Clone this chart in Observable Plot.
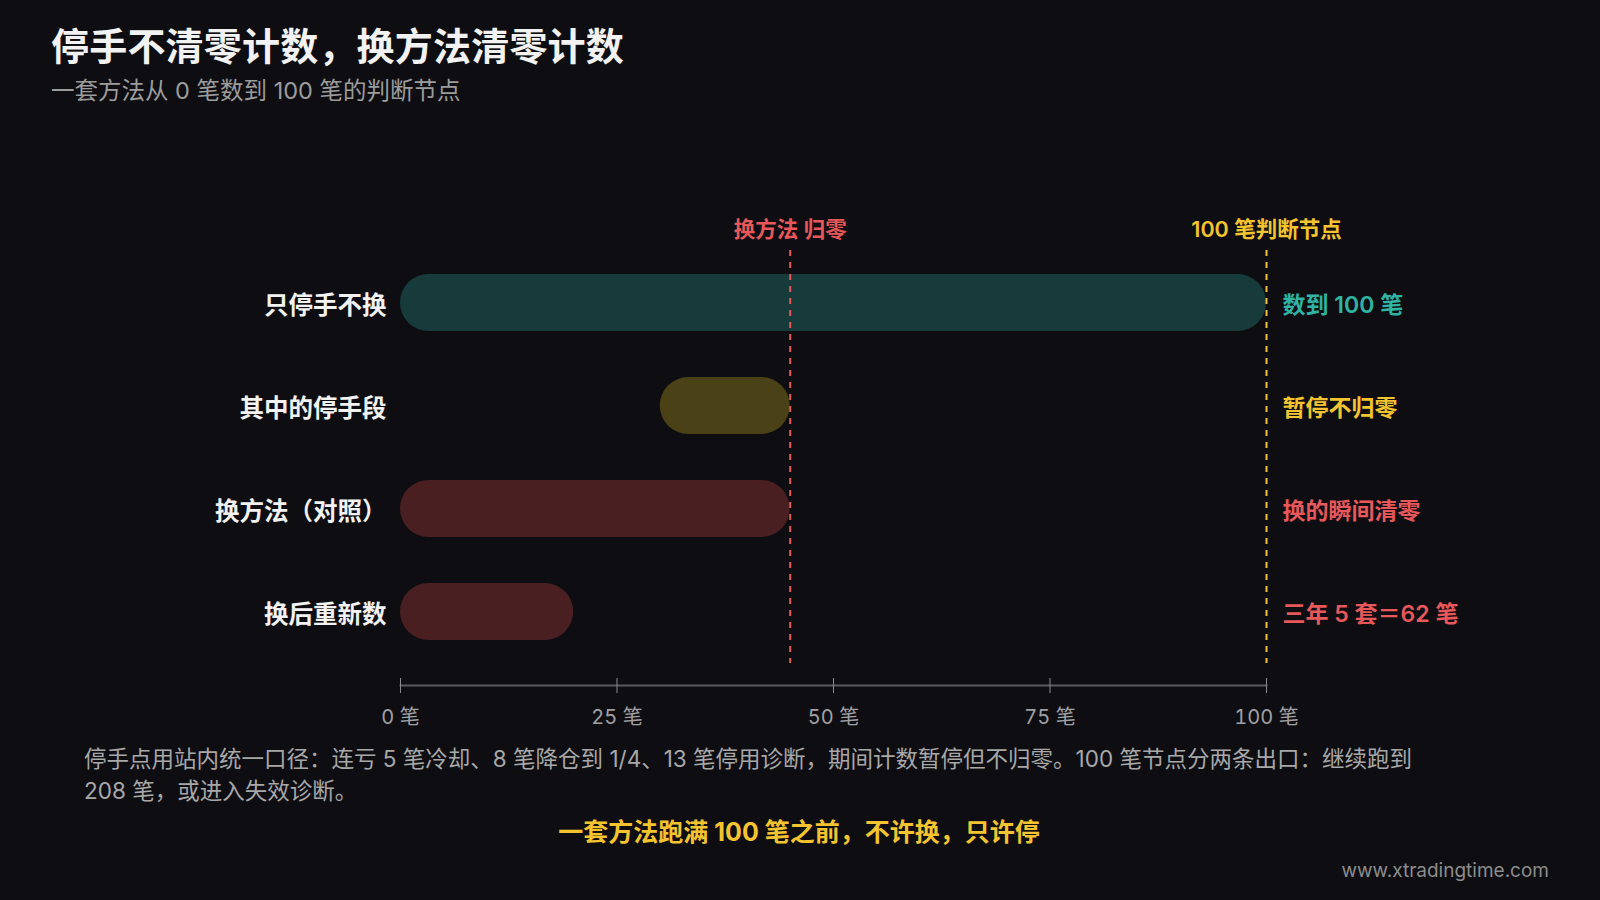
<!DOCTYPE html>
<html>
<head>
<meta charset="utf-8">
<script src="https://cdn.jsdelivr.net/npm/d3@7"></script>
<script src="https://cdn.jsdelivr.net/npm/@observablehq/plot@0.6"></script>
<style>
  html, body { margin: 0; padding: 0; background: #0e0e12; }
  body { width: 1600px; height: 900px; position: relative; overflow: hidden;
         font-family: "Inter", "Noto Sans CJK SC", "Noto Sans", sans-serif; }
  #title { position: absolute; left: 51px; top: 16px; font-size: 38px; font-weight: 700; color: #f2f2f2; letter-spacing: 0.2px; }
  #subtitle { position: absolute; left: 51px; top: 72px; font-size: 23.5px; color: #9c9c9c; }
  #chart { position: absolute; left: 0; top: 180px; }
  #note { position: absolute; left: 84px; top: 743px; font-size: 22.5px; line-height: 32px; color: #a8a8a8; }
  #punch { position: absolute; left: 0; width: 1598px; text-align: center; top: 812px; font-size: 25px; font-weight: 700; color: #f4c430; }
  #site { position: absolute; right: 51px; top: 859px; font-size: 19px; color: #8c8c8c; }
</style>
</head>
<body>
<div id="title">停手不清零计数，换方法清零计数</div>
<div id="subtitle">一套方法从 0 笔数到 100 笔的判断节点</div>
<div id="chart"></div>
<div id="note">停手点用站内统一口径：连亏 5 笔冷却、8 笔降仓到 1/4、13 笔停用诊断，期间计数暂停但不归零。100 笔节点分两条出口：继续跑到<br>208 笔，或进入失效诊断。</div>
<div id="punch">一套方法跑满 100 笔之前，不许换，只许停</div>
<div id="site">www.xtradingtime.com</div>
<script>
// ---- data ----
const categories = ["只停手不换", "其中的停手段", "换方法（对照）", "换后重新数"];
const starts = [0, 30, 0, 0];
const ends = [100, 45, 45, 20];
const notes = ["数到 100 笔", "暂停不归零", "换的瞬间清零", "三年 5 套＝62 笔"];
const kinds = ["keep", "pause", "switch", "switch"];
const markerValues = [45, 100];
const markerLabels = ["换方法 归零", "100 笔判断节点"];
const markerKinds = ["switch", "pause"];
const xTicks = [0, 25, 50, 75, 100];
const tickUnit = "笔";

// ---- styles ----
const barFill = {keep: "#173b3b", pause: "#4b4116", switch: "#4a1f22"};
const textFill = {keep: "#2fb3a3", pause: "#f4c430", switch: "#e8585a"};
const ruleStroke = {switch: "#e25a5a", pause: "#f0c030"};

const rows = categories.map((c, i) => ({cat: c, x1: starts[i], x2: ends[i], note: notes[i], kind: kinds[i]}));
const markers = markerValues.map((v, i) => ({x: v, label: markerLabels[i], kind: markerKinds[i]}));

const fontFamily = '"Inter", "Noto Sans CJK SC", "Noto Sans", sans-serif';

const chart = Plot.plot({
  width: 1600,
  height: 560,
  marginLeft: 400,
  marginRight: 334,
  marginTop: 70,
  marginBottom: 55,
  style: {background: "transparent", color: "#f2f2f2", fontFamily, overflow: "visible"},
  x: {domain: [0, 100]},
  y: {domain: categories, range: [93.5, 459.5], paddingInner: 0.447, paddingOuter: 0},
  marks: [
    Plot.barX(rows, {y: "cat", x1: "x1", x2: "x2", fill: d => barFill[d.kind], rx: 28.5}),
    Plot.ruleX(markers, {x: "x", stroke: d => ruleStroke[d.kind], strokeWidth: 2, strokeDasharray: "6,6", insetBottom: 22}),
    Plot.text(markers, {x: "x", frameAnchor: "top", dy: -29, text: "label", fill: d => textFill[d.kind], fontSize: 21.5, fontWeight: 600}),
    Plot.text(rows, {y: "cat", x: () => 100, dx: 16, dy: 3, textAnchor: "start", text: "note", fill: d => textFill[d.kind], fontSize: 23, fontWeight: 600}),
    Plot.axisY({tickSize: 0, tickPadding: 14, dy: 3, fontSize: 24.5, fontWeight: 600, fill: "#f2f2f2", label: null}),
    Plot.frame({anchor: "bottom", stroke: "#5a5a5e", strokeWidth: 2}),
    Plot.axisX({ticks: xTicks, tickSize: 15, dy: -7, tickPadding: 16, tickFormat: d => `${d} ${tickUnit}`, fontSize: 20, stroke: "#8a8a8e", fill: "#a0a0a4", label: null})
  ]
});
document.getElementById("chart").appendChild(chart);
</script>
</body>
</html>
